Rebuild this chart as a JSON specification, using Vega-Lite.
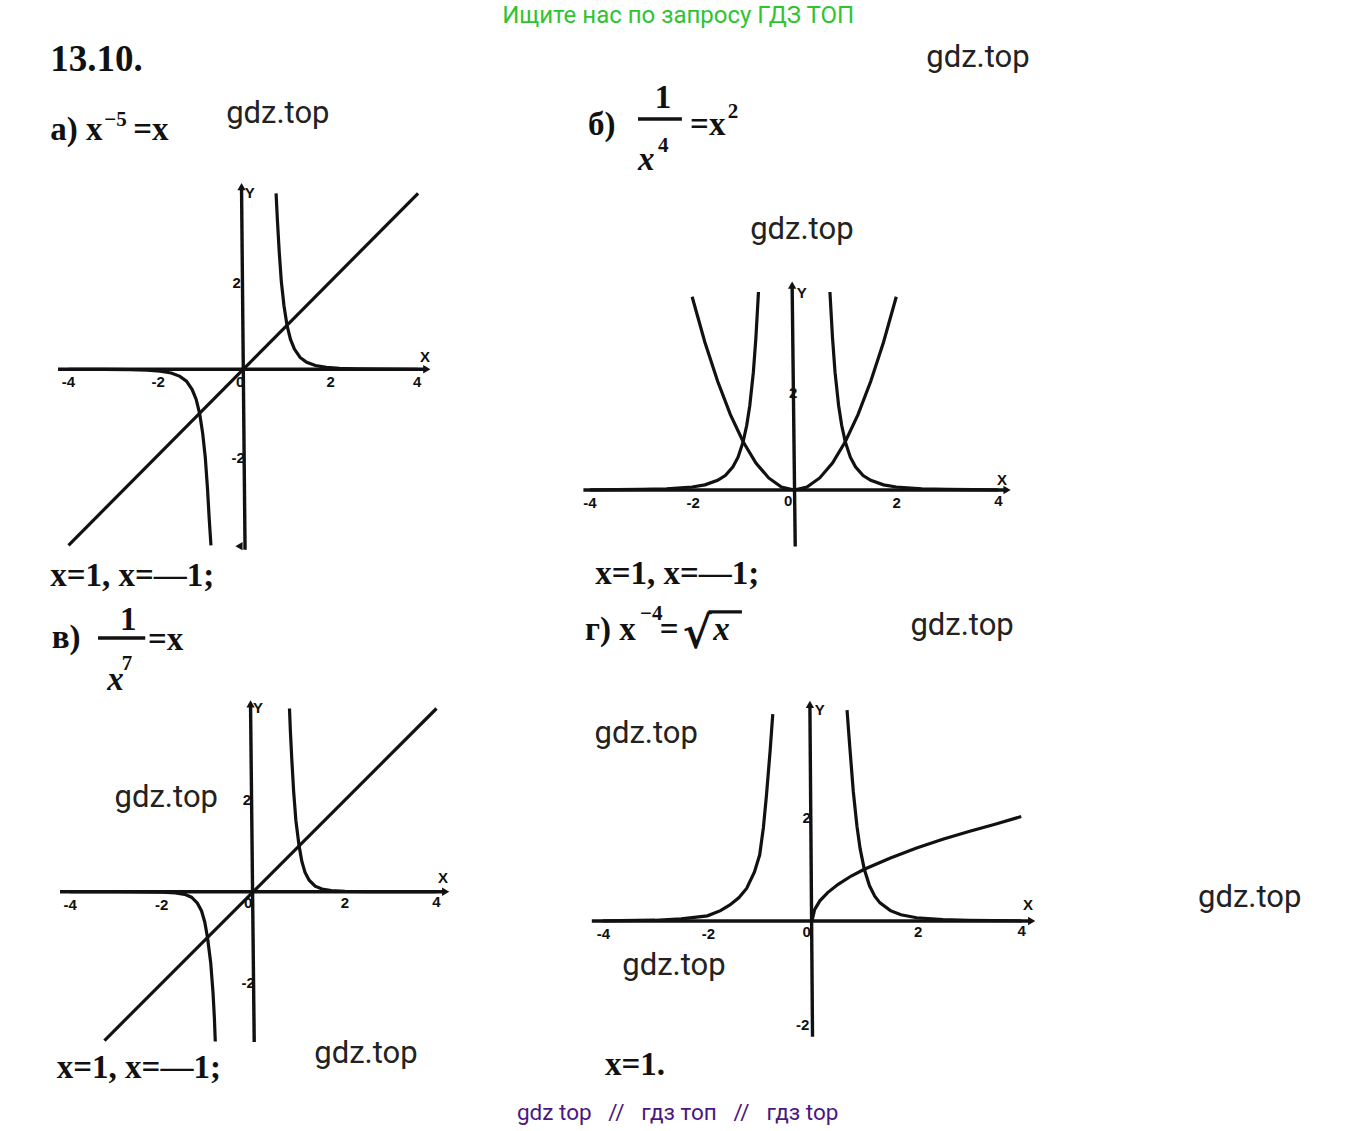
{
  "$schema": "https://vega.github.io/schema/vega-lite/v6.json",
  "width": 1358,
  "height": 1131,
  "padding": 0,
  "autosize": {"type": "fit", "contains": "padding"},
  "background": "white",
  "config": {"view": {"stroke": null}},
  "datasets": {
    "a_curves": [
      {"s": "line", "x": -4, "y": -4}, {"s": "line", "x": 4, "y": 4},
      {"s": "r", "x": 0.75, "y": 4.0}, {"s": "r", "x": 0.78, "y": 3.4}, {"s": "r", "x": 0.82, "y": 2.7}, {"s": "r", "x": 0.87, "y": 2.0}, {"s": "r", "x": 0.93, "y": 1.45}, {"s": "r", "x": 1.0, "y": 1.0}, {"s": "r", "x": 1.08, "y": 0.68}, {"s": "r", "x": 1.17, "y": 0.46}, {"s": "r", "x": 1.3, "y": 0.27}, {"s": "r", "x": 1.45, "y": 0.16}, {"s": "r", "x": 1.65, "y": 0.085}, {"s": "r", "x": 1.9, "y": 0.045}, {"s": "r", "x": 2.2, "y": 0.02}, {"s": "r", "x": 2.6, "y": 0.008}, {"s": "r", "x": 3.2, "y": 0.003}, {"s": "r", "x": 4.0, "y": 0.001},
      {"s": "l", "x": -4.0, "y": -0.001}, {"s": "l", "x": -3.2, "y": -0.003}, {"s": "l", "x": -2.6, "y": -0.008}, {"s": "l", "x": -2.2, "y": -0.02}, {"s": "l", "x": -1.9, "y": -0.045}, {"s": "l", "x": -1.65, "y": -0.085}, {"s": "l", "x": -1.45, "y": -0.16}, {"s": "l", "x": -1.3, "y": -0.27}, {"s": "l", "x": -1.17, "y": -0.46}, {"s": "l", "x": -1.08, "y": -0.68}, {"s": "l", "x": -1.0, "y": -1.0}, {"s": "l", "x": -0.93, "y": -1.45}, {"s": "l", "x": -0.87, "y": -2.0}, {"s": "l", "x": -0.82, "y": -2.7}, {"s": "l", "x": -0.78, "y": -3.4}, {"s": "l", "x": -0.74, "y": -4.0}
    ],
    "a_rules": [
      {"x": -4.24, "y": 0, "x2": 4.15, "y2": 0},
      {"x": -0.04, "y": 4.1, "x2": 0.04, "y2": -4.1}
    ],
    "a_arrows": [
      {"x": 4.2, "y": 0, "d": "right"},
      {"x": -0.04, "y": 4.15, "d": "up"},
      {"x": -0.1, "y": -4.02, "d": "left"}
    ],
    "a_text": [
      {"r": "tick", "t": "-4", "x": -4.0, "y": -0.28},
      {"r": "tick", "t": "-2", "x": -1.95, "y": -0.28},
      {"r": "tick", "t": "0", "x": -0.07, "y": -0.28},
      {"r": "tick", "t": "2", "x": 2.0, "y": -0.28},
      {"r": "tick", "t": "4", "x": 3.98, "y": -0.28},
      {"r": "tick", "t": "2", "x": -0.15, "y": 1.97},
      {"r": "tick", "t": "-2", "x": -0.12, "y": -2.02},
      {"r": "tick", "t": "Y", "x": 0.15, "y": 4.0},
      {"r": "tick", "t": "X", "x": 4.16, "y": 0.29},
      {"r": "m", "t": "а) x", "x": -4.42, "y": 5.21},
      {"r": "m", "t": "=x", "x": -2.52, "y": 5.21},
      {"r": "m", "t": "x=1, x=—1;", "x": -4.42, "y": -4.92},
      {"r": "sup", "t": "−5", "x": -3.18, "y": 5.53},
      {"r": "title", "t": "13.10.", "x": -4.42, "y": 6.78},
      {"r": "w", "t": "gdz.top", "x": 0.79, "y": 5.8},
      {"r": "green", "t": "Ищите нас по запросу ГДЗ ТОП", "x": 9.95, "y": 7.87},
      {"r": "purple", "t": "gdz top\u00a0\u00a0\u00a0//\u00a0\u00a0\u00a0гдз топ\u00a0\u00a0\u00a0//\u00a0\u00a0\u00a0гдз top", "x": 9.94, "y": -17.05}
    ],
    "b_curves": [
      {"s": "p", "x": -2.0, "y": 4.0}, {"s": "p", "x": -1.75, "y": 3.06}, {"s": "p", "x": -1.5, "y": 2.25}, {"s": "p", "x": -1.25, "y": 1.56}, {"s": "p", "x": -1.0, "y": 1.0}, {"s": "p", "x": -0.75, "y": 0.56}, {"s": "p", "x": -0.5, "y": 0.25}, {"s": "p", "x": -0.25, "y": 0.06}, {"s": "p", "x": 0, "y": 0}, {"s": "p", "x": 0.25, "y": 0.06}, {"s": "p", "x": 0.5, "y": 0.25}, {"s": "p", "x": 0.75, "y": 0.56}, {"s": "p", "x": 1.0, "y": 1.0}, {"s": "p", "x": 1.25, "y": 1.56}, {"s": "p", "x": 1.5, "y": 2.25}, {"s": "p", "x": 1.75, "y": 3.06}, {"s": "p", "x": 2.0, "y": 4.0},
      {"s": "r", "x": 0.7, "y": 4.1}, {"s": "r", "x": 0.75, "y": 3.16}, {"s": "r", "x": 0.8, "y": 2.44}, {"s": "r", "x": 0.87, "y": 1.75}, {"s": "r", "x": 0.93, "y": 1.34}, {"s": "r", "x": 1.0, "y": 1.0}, {"s": "r", "x": 1.1, "y": 0.68}, {"s": "r", "x": 1.2, "y": 0.48}, {"s": "r", "x": 1.35, "y": 0.3}, {"s": "r", "x": 1.5, "y": 0.2}, {"s": "r", "x": 1.75, "y": 0.107}, {"s": "r", "x": 2.0, "y": 0.0625}, {"s": "r", "x": 2.5, "y": 0.026}, {"s": "r", "x": 3.0, "y": 0.012}, {"s": "r", "x": 3.5, "y": 0.007}, {"s": "r", "x": 4.0, "y": 0.004},
      {"s": "l", "x": -4.0, "y": 0.004}, {"s": "l", "x": -3.5, "y": 0.007}, {"s": "l", "x": -3.0, "y": 0.012}, {"s": "l", "x": -2.5, "y": 0.026}, {"s": "l", "x": -2.0, "y": 0.0625}, {"s": "l", "x": -1.75, "y": 0.107}, {"s": "l", "x": -1.5, "y": 0.2}, {"s": "l", "x": -1.35, "y": 0.3}, {"s": "l", "x": -1.2, "y": 0.48}, {"s": "l", "x": -1.1, "y": 0.68}, {"s": "l", "x": -1.0, "y": 1.0}, {"s": "l", "x": -0.93, "y": 1.34}, {"s": "l", "x": -0.87, "y": 1.75}, {"s": "l", "x": -0.8, "y": 2.44}, {"s": "l", "x": -0.75, "y": 3.16}, {"s": "l", "x": -0.7, "y": 4.1}
    ],
    "b_rules": [
      {"x": -4.13, "y": 0, "x2": 4.12, "y2": 0},
      {"x": -0.04, "y": 4.2, "x2": 0.02, "y2": -1.17},
      {"x": -3.06, "y": 7.68, "x2": -2.2, "y2": 7.68}
    ],
    "b_arrows": [
      {"x": 4.17, "y": 0, "d": "right"},
      {"x": -0.04, "y": 4.24, "d": "up"}
    ],
    "b_text": [
      {"r": "tick", "t": "-4", "x": -4.0, "y": -0.27},
      {"r": "tick", "t": "-2", "x": -1.98, "y": -0.27},
      {"r": "tick", "t": "0", "x": -0.12, "y": -0.22},
      {"r": "tick", "t": "2", "x": 2.01, "y": -0.27},
      {"r": "tick", "t": "4", "x": 4.0, "y": -0.22},
      {"r": "tick", "t": "2", "x": -0.02, "y": 2.0},
      {"r": "tick", "t": "Y", "x": 0.15, "y": 4.07},
      {"r": "tick", "t": "X", "x": 4.07, "y": 0.21},
      {"r": "m", "t": "б)", "x": -4.04, "y": 7.35},
      {"r": "m", "t": "1", "x": -2.73, "y": 7.9},
      {"r": "m", "t": "=x", "x": -2.04, "y": 7.35},
      {"r": "m", "t": "x=1, x=—1;", "x": -3.9, "y": -1.95},
      {"r": "mi", "t": "x", "x": -3.06, "y": 6.63},
      {"r": "sup", "t": "4", "x": -2.67, "y": 7.0},
      {"r": "sup", "t": "2", "x": -1.3, "y": 7.7},
      {"r": "w", "t": "gdz.top", "x": 3.6, "y": 8.94},
      {"r": "w", "t": "gdz.top", "x": 0.15, "y": 5.38}
    ],
    "c_curves": [
      {"s": "line", "x": -3.25, "y": -3.25}, {"s": "line", "x": 4, "y": 4},
      {"s": "r", "x": 0.79, "y": 4.0}, {"s": "r", "x": 0.81, "y": 3.5}, {"s": "r", "x": 0.84, "y": 2.9}, {"s": "r", "x": 0.88, "y": 2.2}, {"s": "r", "x": 0.93, "y": 1.55}, {"s": "r", "x": 1.0, "y": 1.0}, {"s": "r", "x": 1.06, "y": 0.66}, {"s": "r", "x": 1.13, "y": 0.42}, {"s": "r", "x": 1.22, "y": 0.25}, {"s": "r", "x": 1.35, "y": 0.12}, {"s": "r", "x": 1.5, "y": 0.058}, {"s": "r", "x": 1.7, "y": 0.024}, {"s": "r", "x": 2.0, "y": 0.008}, {"s": "r", "x": 2.5, "y": 0.002}, {"s": "r", "x": 3.0, "y": 0.0005}, {"s": "r", "x": 4.0, "y": 0.0001},
      {"s": "l", "x": -4.0, "y": -0.0001}, {"s": "l", "x": -3.0, "y": -0.0005}, {"s": "l", "x": -2.5, "y": -0.002}, {"s": "l", "x": -2.0, "y": -0.008}, {"s": "l", "x": -1.7, "y": -0.024}, {"s": "l", "x": -1.5, "y": -0.058}, {"s": "l", "x": -1.35, "y": -0.12}, {"s": "l", "x": -1.22, "y": -0.25}, {"s": "l", "x": -1.13, "y": -0.42}, {"s": "l", "x": -1.06, "y": -0.66}, {"s": "l", "x": -1.0, "y": -1.0}, {"s": "l", "x": -0.93, "y": -1.55}, {"s": "l", "x": -0.88, "y": -2.2}, {"s": "l", "x": -0.85, "y": -2.75}, {"s": "l", "x": -0.83, "y": -3.27}
    ],
    "c_rules": [
      {"x": -4.22, "y": 0, "x2": 4.15, "y2": 0},
      {"x": -0.06, "y": 4.05, "x2": 0.02, "y2": -3.28},
      {"x": -3.39, "y": 5.54, "x2": -2.36, "y2": 5.54}
    ],
    "c_arrows": [
      {"x": 4.2, "y": 0, "d": "right"},
      {"x": -0.06, "y": 4.1, "d": "up"}
    ],
    "c_text": [
      {"r": "tick", "t": "-4", "x": -4.0, "y": -0.3},
      {"r": "tick", "t": "-2", "x": -2.0, "y": -0.3},
      {"r": "tick", "t": "0", "x": -0.11, "y": -0.25},
      {"r": "tick", "t": "2", "x": 2.0, "y": -0.25},
      {"r": "tick", "t": "4", "x": 4.0, "y": -0.22},
      {"r": "tick", "t": "2", "x": -0.14, "y": 2.0},
      {"r": "tick", "t": "-2", "x": -0.11, "y": -2.0},
      {"r": "tick", "t": "Y", "x": 0.1, "y": 4.01},
      {"r": "tick", "t": "X", "x": 4.14, "y": 0.3},
      {"r": "m", "t": "в)", "x": -4.4, "y": 5.32},
      {"r": "m", "t": "1", "x": -2.91, "y": 5.71},
      {"r": "m", "t": "=x", "x": -2.3, "y": 5.28},
      {"r": "m", "t": "x=1, x=—1;", "x": -4.29, "y": -4.07},
      {"r": "mi", "t": "x", "x": -3.19, "y": 4.4},
      {"r": "sup", "t": "7", "x": -2.87, "y": 4.84},
      {"r": "w", "t": "gdz.top", "x": -1.9, "y": 2.05},
      {"r": "w", "t": "gdz.top", "x": 2.46, "y": -3.54}
    ],
    "d_curves": [
      {"s": "sq", "x": 0, "y": 0}, {"s": "sq", "x": 0.05, "y": 0.22}, {"s": "sq", "x": 0.15, "y": 0.39}, {"s": "sq", "x": 0.3, "y": 0.55}, {"s": "sq", "x": 0.5, "y": 0.71}, {"s": "sq", "x": 0.75, "y": 0.87}, {"s": "sq", "x": 1.0, "y": 1.0}, {"s": "sq", "x": 1.5, "y": 1.22}, {"s": "sq", "x": 2.0, "y": 1.41}, {"s": "sq", "x": 2.5, "y": 1.58}, {"s": "sq", "x": 3.0, "y": 1.73}, {"s": "sq", "x": 3.5, "y": 1.87}, {"s": "sq", "x": 4.0, "y": 2.02},
      {"s": "r", "x": 0.67, "y": 4.08}, {"s": "r", "x": 0.72, "y": 3.4}, {"s": "r", "x": 0.79, "y": 2.5}, {"s": "r", "x": 0.86, "y": 1.83}, {"s": "r", "x": 0.92, "y": 1.4}, {"s": "r", "x": 1.0, "y": 1.0}, {"s": "r", "x": 1.1, "y": 0.68}, {"s": "r", "x": 1.2, "y": 0.48}, {"s": "r", "x": 1.3, "y": 0.35}, {"s": "r", "x": 1.5, "y": 0.2}, {"s": "r", "x": 1.7, "y": 0.12}, {"s": "r", "x": 2.0, "y": 0.0625}, {"s": "r", "x": 2.5, "y": 0.026}, {"s": "r", "x": 3.0, "y": 0.012}, {"s": "r", "x": 4.0, "y": 0.004},
      {"s": "l", "x": -4.0, "y": 0.004}, {"s": "l", "x": -3.0, "y": 0.015}, {"s": "l", "x": -2.5, "y": 0.04}, {"s": "l", "x": -2.0, "y": 0.1}, {"s": "l", "x": -1.75, "y": 0.2}, {"s": "l", "x": -1.57, "y": 0.31}, {"s": "l", "x": -1.4, "y": 0.45}, {"s": "l", "x": -1.25, "y": 0.63}, {"s": "l", "x": -1.1, "y": 0.95}, {"s": "l", "x": -1.0, "y": 1.28}, {"s": "l", "x": -0.93, "y": 1.8}, {"s": "l", "x": -0.87, "y": 2.44}, {"s": "l", "x": -0.8, "y": 3.3}, {"s": "l", "x": -0.75, "y": 4.0}
    ],
    "d_rules": [
      {"x": -4.21, "y": 0, "x2": 4.15, "y2": 0},
      {"x": -0.04, "y": 4.15, "x2": 0.01, "y2": -2.24},
      {"x": -1.98, "y": 5.98, "x2": -1.34, "y2": 5.98}
    ],
    "d_arrows": [
      {"x": 4.2, "y": 0, "d": "right"},
      {"x": -0.04, "y": 4.19, "d": "up"}
    ],
    "d_text": [
      {"r": "tick", "t": "-4", "x": -3.99, "y": -0.25},
      {"r": "tick", "t": "-2", "x": -1.98, "y": -0.25},
      {"r": "tick", "t": "0", "x": -0.1, "y": -0.22},
      {"r": "tick", "t": "2", "x": 2.03, "y": -0.22},
      {"r": "tick", "t": "4", "x": 4.01, "y": -0.2},
      {"r": "tick", "t": "2", "x": -0.1, "y": 1.99},
      {"r": "tick", "t": "-2", "x": -0.18, "y": -2.01},
      {"r": "tick", "t": "Y", "x": 0.15, "y": 4.08},
      {"r": "tick", "t": "X", "x": 4.13, "y": 0.31},
      {"r": "m", "t": "г) x", "x": -4.34, "y": 5.44},
      {"r": "m", "t": "=", "x": -2.91, "y": 5.44},
      {"r": "m", "t": "x=1.", "x": -3.96, "y": -2.98},
      {"r": "mi", "t": "x", "x": -1.89, "y": 5.44},
      {"r": "rad", "t": "√", "x": -2.47, "y": 5.28},
      {"r": "sup", "t": "−4", "x": -3.29, "y": 5.82},
      {"r": "w", "t": "gdz.top", "x": 2.87, "y": 5.71},
      {"r": "w", "t": "gdz.top", "x": -3.17, "y": 3.62},
      {"r": "w", "t": "gdz.top", "x": -2.64, "y": -0.87},
      {"r": "w", "t": "gdz.top", "x": 8.37, "y": 0.44}
    ]
  },
  "resolve": {"scale": {"x": "independent", "y": "independent"}},
  "layer": [
    {
      "encoding": {
        "x": {"field": "x", "type": "quantitative", "axis": null, "scale": {"domain": [-5.5675, 25.508], "nice": false, "zero": false}},
        "y": {"field": "y", "type": "quantitative", "axis": null, "scale": {"domain": [-17.311, 8.393], "nice": false, "zero": false}}
      },
      "layer": [
        {"data": {"name": "a_rules"}, "mark": {"type": "rule", "strokeWidth": 3.4, "color": "#111"}, "encoding": {"x2": {"field": "x2"}, "y2": {"field": "y2"}}},
        {"data": {"name": "a_arrows"}, "mark": {"type": "point", "filled": true, "size": 70, "color": "#111", "opacity": 1}, "encoding": {"shape": {"field": "d", "type": "nominal", "scale": {"domain": ["up", "right", "left"], "range": ["triangle-up", "triangle-right", "triangle-left"]}, "legend": null}}},
        {"data": {"name": "a_curves"}, "mark": {"type": "line", "strokeWidth": 3.2, "color": "#111"}, "encoding": {"detail": {"field": "s", "type": "nominal"}}},
        {"data": {"name": "a_text"}, "transform": [{"filter": "datum.r === 'tick'"}], "mark": {"type": "text", "font": "Liberation Sans", "fontWeight": "bold", "fontSize": 15, "color": "#111", "align": "center", "baseline": "middle"}, "encoding": {"text": {"field": "t"}}},
        {"data": {"name": "a_text"}, "transform": [{"filter": "datum.r === 'm'"}], "mark": {"type": "text", "font": "Liberation Serif", "fontWeight": "bold", "fontSize": 33, "color": "#111", "align": "left", "baseline": "alphabetic"}, "encoding": {"text": {"field": "t"}}},
        {"data": {"name": "a_text"}, "transform": [{"filter": "datum.r === 'sup'"}], "mark": {"type": "text", "font": "Liberation Serif", "fontWeight": "bold", "fontSize": 21, "color": "#111", "align": "left", "baseline": "alphabetic"}, "encoding": {"text": {"field": "t"}}},
        {"data": {"name": "a_text"}, "transform": [{"filter": "datum.r === 'title'"}], "mark": {"type": "text", "font": "Liberation Serif", "fontWeight": "bold", "fontSize": 37, "color": "#111", "align": "left", "baseline": "alphabetic"}, "encoding": {"text": {"field": "t"}}},
        {"data": {"name": "a_text"}, "transform": [{"filter": "datum.r === 'w'"}], "mark": {"type": "text", "font": "Roboto", "fontSize": 31, "color": "#222222", "align": "center", "baseline": "middle"}, "encoding": {"text": {"field": "t"}}},
        {"data": {"name": "a_text"}, "transform": [{"filter": "datum.r === 'green'"}], "mark": {"type": "text", "font": "Roboto", "fontSize": 24, "color": "#2fc42f", "align": "center", "baseline": "alphabetic"}, "encoding": {"text": {"field": "t"}}},
        {"data": {"name": "a_text"}, "transform": [{"filter": "datum.r === 'purple'"}], "mark": {"type": "text", "font": "Roboto", "fontSize": 22.5, "color": "#4b1682", "align": "center", "baseline": "alphabetic"}, "encoding": {"text": {"field": "t"}}}
      ]
    },
    {
      "encoding": {
        "x": {"field": "x", "type": "quantitative", "axis": null, "scale": {"domain": [-15.5603, 11.0462], "nice": false, "zero": false}},
        "y": {"field": "y", "type": "quantitative", "axis": null, "scale": {"domain": [-13.2712, 10.1449], "nice": false, "zero": false}}
      },
      "layer": [
        {"data": {"name": "b_rules"}, "mark": {"type": "rule", "strokeWidth": 3.4, "color": "#111"}, "encoding": {"x2": {"field": "x2"}, "y2": {"field": "y2"}}},
        {"data": {"name": "b_arrows"}, "mark": {"type": "point", "filled": true, "size": 70, "color": "#111", "opacity": 1}, "encoding": {"shape": {"field": "d", "type": "nominal", "scale": {"domain": ["up", "right", "left"], "range": ["triangle-up", "triangle-right", "triangle-left"]}, "legend": null}}},
        {"data": {"name": "b_curves"}, "mark": {"type": "line", "strokeWidth": 3.2, "color": "#111"}, "encoding": {"detail": {"field": "s", "type": "nominal"}}},
        {"data": {"name": "b_text"}, "transform": [{"filter": "datum.r === 'tick'"}], "mark": {"type": "text", "font": "Liberation Sans", "fontWeight": "bold", "fontSize": 15, "color": "#111", "align": "center", "baseline": "middle"}, "encoding": {"text": {"field": "t"}}},
        {"data": {"name": "b_text"}, "transform": [{"filter": "datum.r === 'm'"}], "mark": {"type": "text", "font": "Liberation Serif", "fontWeight": "bold", "fontSize": 33, "color": "#111", "align": "left", "baseline": "alphabetic"}, "encoding": {"text": {"field": "t"}}},
        {"data": {"name": "b_text"}, "transform": [{"filter": "datum.r === 'mi'"}], "mark": {"type": "text", "font": "Liberation Serif", "fontWeight": "bold", "fontStyle": "italic", "fontSize": 33, "color": "#111", "align": "left", "baseline": "alphabetic"}, "encoding": {"text": {"field": "t"}}},
        {"data": {"name": "b_text"}, "transform": [{"filter": "datum.r === 'sup'"}], "mark": {"type": "text", "font": "Liberation Serif", "fontWeight": "bold", "fontSize": 21, "color": "#111", "align": "left", "baseline": "alphabetic"}, "encoding": {"text": {"field": "t"}}},
        {"data": {"name": "b_text"}, "transform": [{"filter": "datum.r === 'w'"}], "mark": {"type": "text", "font": "Roboto", "fontSize": 31, "color": "#222222", "align": "center", "baseline": "middle"}, "encoding": {"text": {"field": "t"}}}
      ]
    },
    {
      "encoding": {
        "x": {"field": "x", "type": "quantitative", "axis": null, "scale": {"domain": [-5.5306, 24.1201], "nice": false, "zero": false}},
        "y": {"field": "y", "type": "quantitative", "axis": null, "scale": {"domain": [-5.2249, 19.4694], "nice": false, "zero": false}}
      },
      "layer": [
        {"data": {"name": "c_rules"}, "mark": {"type": "rule", "strokeWidth": 3.4, "color": "#111"}, "encoding": {"x2": {"field": "x2"}, "y2": {"field": "y2"}}},
        {"data": {"name": "c_arrows"}, "mark": {"type": "point", "filled": true, "size": 70, "color": "#111", "opacity": 1}, "encoding": {"shape": {"field": "d", "type": "nominal", "scale": {"domain": ["up", "right", "left"], "range": ["triangle-up", "triangle-right", "triangle-left"]}, "legend": null}}},
        {"data": {"name": "c_curves"}, "mark": {"type": "line", "strokeWidth": 3.2, "color": "#111"}, "encoding": {"detail": {"field": "s", "type": "nominal"}}},
        {"data": {"name": "c_text"}, "transform": [{"filter": "datum.r === 'tick'"}], "mark": {"type": "text", "font": "Liberation Sans", "fontWeight": "bold", "fontSize": 15, "color": "#111", "align": "center", "baseline": "middle"}, "encoding": {"text": {"field": "t"}}},
        {"data": {"name": "c_text"}, "transform": [{"filter": "datum.r === 'm'"}], "mark": {"type": "text", "font": "Liberation Serif", "fontWeight": "bold", "fontSize": 33, "color": "#111", "align": "left", "baseline": "alphabetic"}, "encoding": {"text": {"field": "t"}}},
        {"data": {"name": "c_text"}, "transform": [{"filter": "datum.r === 'mi'"}], "mark": {"type": "text", "font": "Liberation Serif", "fontWeight": "bold", "fontStyle": "italic", "fontSize": 33, "color": "#111", "align": "left", "baseline": "alphabetic"}, "encoding": {"text": {"field": "t"}}},
        {"data": {"name": "c_text"}, "transform": [{"filter": "datum.r === 'sup'"}], "mark": {"type": "text", "font": "Liberation Serif", "fontWeight": "bold", "fontSize": 21, "color": "#111", "align": "left", "baseline": "alphabetic"}, "encoding": {"text": {"field": "t"}}},
        {"data": {"name": "c_text"}, "transform": [{"filter": "datum.r === 'w'"}], "mark": {"type": "text", "font": "Roboto", "fontSize": 31, "color": "#222222", "align": "center", "baseline": "middle"}, "encoding": {"text": {"field": "t"}}}
      ]
    },
    {
      "encoding": {
        "x": {"field": "x", "type": "quantitative", "axis": null, "scale": {"domain": [-15.5258, 10.4398], "nice": false, "zero": false}},
        "y": {"field": "y", "type": "quantitative", "axis": null, "scale": {"domain": [-4.0619, 17.8143], "nice": false, "zero": false}}
      },
      "layer": [
        {"data": {"name": "d_rules"}, "mark": {"type": "rule", "strokeWidth": 3.4, "color": "#111"}, "encoding": {"x2": {"field": "x2"}, "y2": {"field": "y2"}}},
        {"data": {"name": "d_arrows"}, "mark": {"type": "point", "filled": true, "size": 70, "color": "#111", "opacity": 1}, "encoding": {"shape": {"field": "d", "type": "nominal", "scale": {"domain": ["up", "right", "left"], "range": ["triangle-up", "triangle-right", "triangle-left"]}, "legend": null}}},
        {"data": {"name": "d_curves"}, "mark": {"type": "line", "strokeWidth": 3.2, "color": "#111"}, "encoding": {"detail": {"field": "s", "type": "nominal"}}},
        {"data": {"name": "d_text"}, "transform": [{"filter": "datum.r === 'tick'"}], "mark": {"type": "text", "font": "Liberation Sans", "fontWeight": "bold", "fontSize": 15, "color": "#111", "align": "center", "baseline": "middle"}, "encoding": {"text": {"field": "t"}}},
        {"data": {"name": "d_text"}, "transform": [{"filter": "datum.r === 'm'"}], "mark": {"type": "text", "font": "Liberation Serif", "fontWeight": "bold", "fontSize": 33, "color": "#111", "align": "left", "baseline": "alphabetic"}, "encoding": {"text": {"field": "t"}}},
        {"data": {"name": "d_text"}, "transform": [{"filter": "datum.r === 'mi'"}], "mark": {"type": "text", "font": "Liberation Serif", "fontWeight": "bold", "fontStyle": "italic", "fontSize": 33, "color": "#111", "align": "left", "baseline": "alphabetic"}, "encoding": {"text": {"field": "t"}}},
        {"data": {"name": "d_text"}, "transform": [{"filter": "datum.r === 'rad'"}], "mark": {"type": "text", "font": "DejaVu Serif", "fontWeight": "bold", "fontSize": 44, "color": "#111", "align": "left", "baseline": "alphabetic"}, "encoding": {"text": {"field": "t"}}},
        {"data": {"name": "d_text"}, "transform": [{"filter": "datum.r === 'sup'"}], "mark": {"type": "text", "font": "Liberation Serif", "fontWeight": "bold", "fontSize": 21, "color": "#111", "align": "left", "baseline": "alphabetic"}, "encoding": {"text": {"field": "t"}}},
        {"data": {"name": "d_text"}, "transform": [{"filter": "datum.r === 'w'"}], "mark": {"type": "text", "font": "Roboto", "fontSize": 31, "color": "#222222", "align": "center", "baseline": "middle"}, "encoding": {"text": {"field": "t"}}}
      ]
    }
  ]
}
